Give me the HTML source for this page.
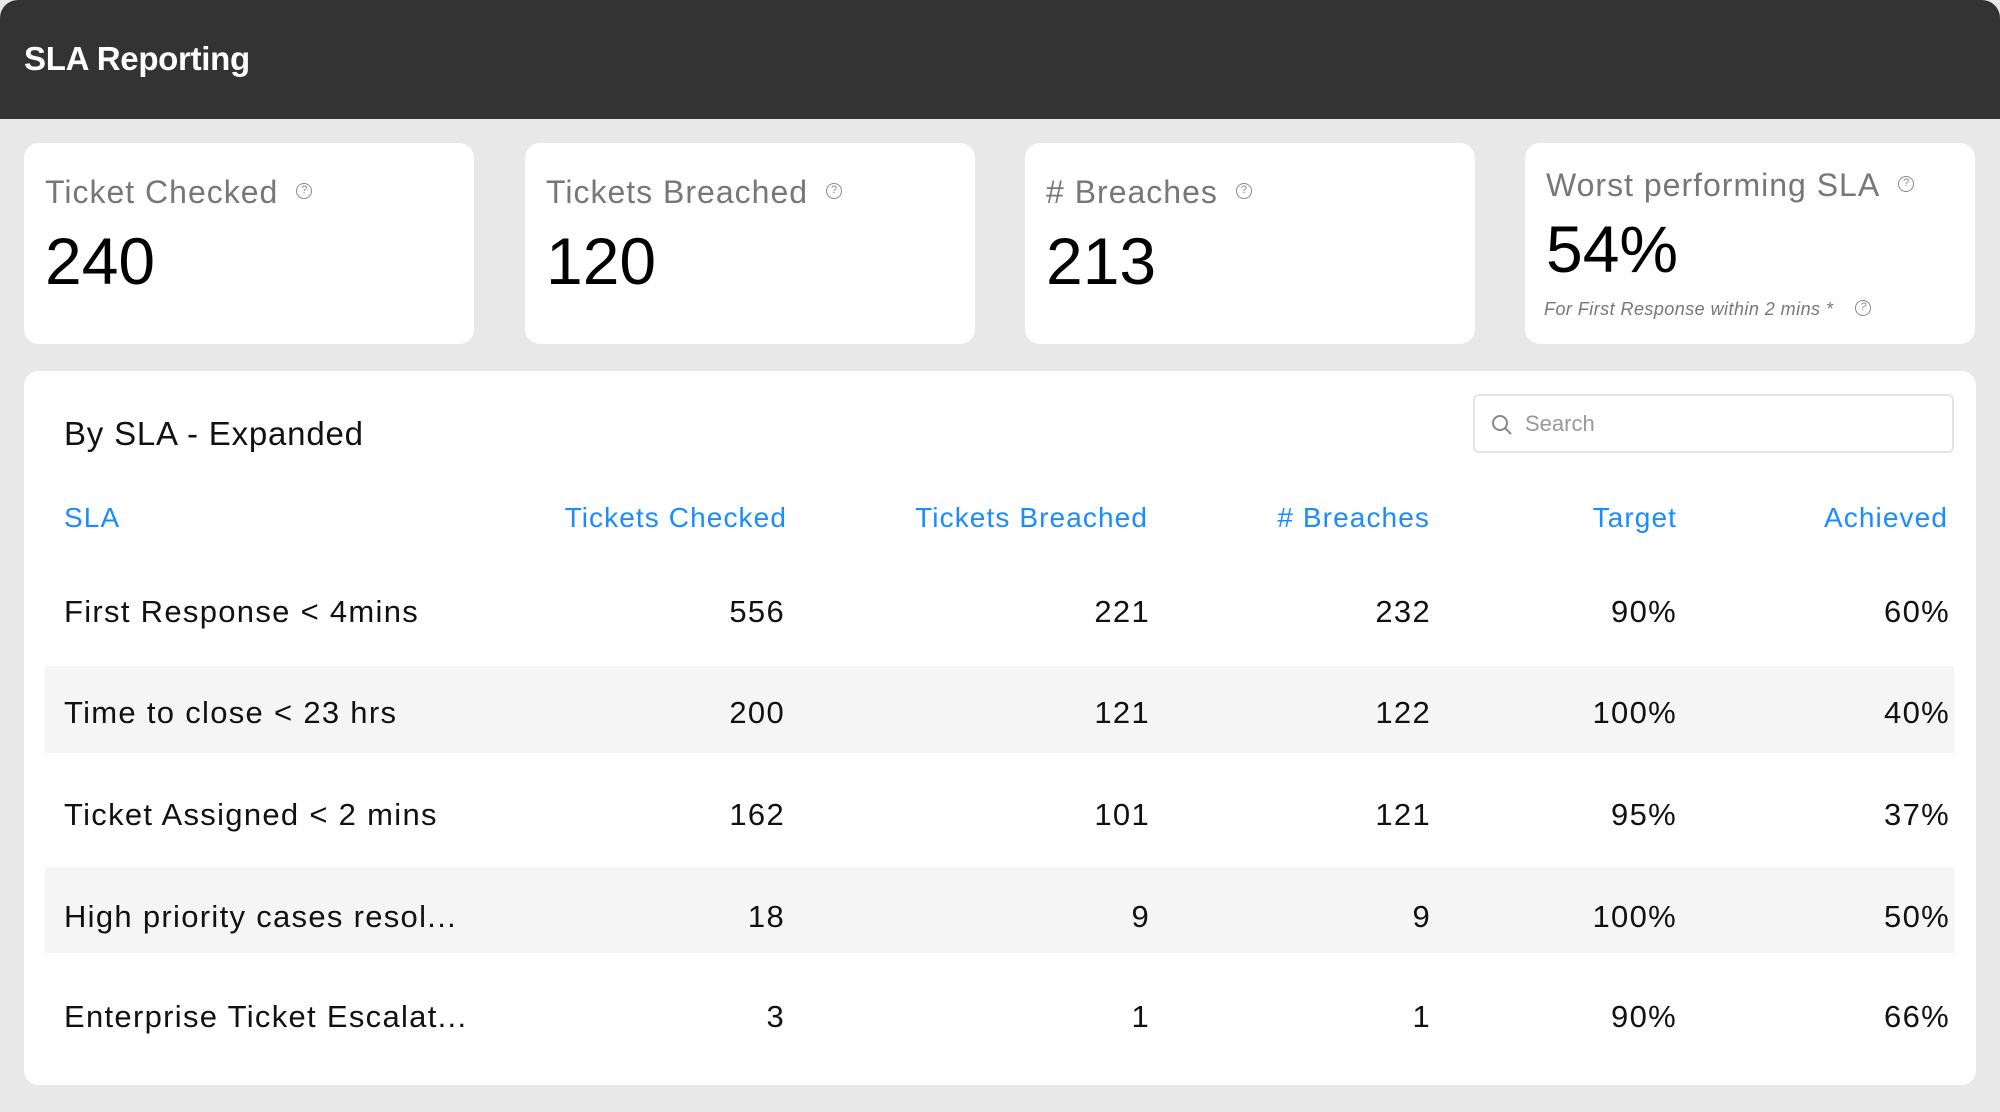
<!DOCTYPE html>
<html><head><meta charset="utf-8"><style>
*{margin:0;padding:0;box-sizing:border-box}
body{width:2000px;height:1112px;background:#e8e8e8;font-family:"Liberation Sans",sans-serif;position:relative;overflow:hidden}
.hdr{position:absolute;left:0;top:0;width:2000px;height:119px;background:#333;border-radius:18px 18px 0 0}
.hdr span{position:absolute;left:24px;top:40px;font-size:33px;color:#fff;font-weight:bold;letter-spacing:-0.3px}
.card{position:absolute;top:143px;height:201px;width:450px;background:#fff;border-radius:15px}
.lbl{position:absolute;left:21px;top:31px;font-size:32px;color:#777;white-space:nowrap;letter-spacing:1px}
.q{display:inline-block;width:16px;height:16px;border:1.5px solid #888;border-radius:50%;font-size:11px;line-height:13px;text-align:center;color:#888;vertical-align:middle;margin-left:18px;position:relative;top:-4px;letter-spacing:0}
.val{position:absolute;left:21px;top:80px;font-size:66px;color:#000}
.sub{position:absolute;left:19px;top:156px;font-size:18px;color:#777;font-style:italic;white-space:nowrap;letter-spacing:0.45px}
.panel{position:absolute;left:24px;top:371px;width:1952px;height:714px;background:#fff;border-radius:15px}
.title{position:absolute;left:64px;top:415px;font-size:33px;color:#111;letter-spacing:0.8px}
.search{position:absolute;left:1473px;top:394px;width:481px;height:59px;border:2px solid #e4e4e4;border-radius:6px}
.search span{position:absolute;left:50px;top:15px;font-size:22px;color:#999}
.th,.td{position:absolute;white-space:nowrap}
.th{color:#1a8cff;font-size:28px;top:502px;letter-spacing:1.1px}
.td{color:#111;font-size:31px;letter-spacing:1.3px}
.r{transform:translateX(-100%)}
.stripe{position:absolute;left:45px;width:1909px;background:#f5f5f5}
</style></head><body>
<div class="hdr"><span>SLA Reporting</span></div>
<div class="card" style="left:24px"><div class="lbl">Ticket Checked<span class="q">?</span></div><div class="val">240</div></div>
<div class="card" style="left:525px"><div class="lbl">Tickets Breached<span class="q">?</span></div><div class="val">120</div></div>
<div class="card" style="left:1025px"><div class="lbl"># Breaches<span class="q">?</span></div><div class="val">213</div></div>
<div class="card" style="left:1525px"><div class="lbl" style="top:24px">Worst performing SLA<span class="q">?</span></div><div class="val" style="top:68px">54%</div><div class="sub">For First Response within 2 mins *<span class="q" style="margin-left:22px;top:-2px">?</span></div></div>
<div class="panel"></div>
<div class="stripe" style="top:666px;height:87px"></div>
<div class="stripe" style="top:867px;height:86px"></div>
<div class="title">By SLA - Expanded</div>
<div class="search"><svg style="position:absolute;left:15px;top:17px" width="24" height="24" viewBox="0 0 24 24"><circle cx="10" cy="10" r="7" fill="none" stroke="#888" stroke-width="2"/><line x1="15" y1="15" x2="21" y2="21" stroke="#888" stroke-width="2"/></svg><span>Search</span></div>
<div class="th" style="left:64px">SLA</div>
<div class="th r" style="left:787px">Tickets Checked</div>
<div class="th r" style="left:1148px">Tickets Breached</div>
<div class="th r" style="left:1430px"># Breaches</div>
<div class="th r" style="left:1677px">Target</div>
<div class="th r" style="left:1948px">Achieved</div>

<div class="td" style="left:64px;top:594px">First Response &lt; 4mins</div>
<div class="td r" style="left:785px;top:594px">556</div>
<div class="td r" style="left:1150px;top:594px">221</div>
<div class="td r" style="left:1431px;top:594px">232</div>
<div class="td r" style="left:1677px;top:594px">90%</div>
<div class="td r" style="left:1950px;top:594px">60%</div>

<div class="td" style="left:64px;top:695px">Time to close &lt; 23 hrs</div>
<div class="td r" style="left:785px;top:695px">200</div>
<div class="td r" style="left:1150px;top:695px">121</div>
<div class="td r" style="left:1431px;top:695px">122</div>
<div class="td r" style="left:1677px;top:695px">100%</div>
<div class="td r" style="left:1950px;top:695px">40%</div>

<div class="td" style="left:64px;top:797px">Ticket Assigned &lt; 2 mins</div>
<div class="td r" style="left:785px;top:797px">162</div>
<div class="td r" style="left:1150px;top:797px">101</div>
<div class="td r" style="left:1431px;top:797px">121</div>
<div class="td r" style="left:1677px;top:797px">95%</div>
<div class="td r" style="left:1950px;top:797px">37%</div>

<div class="td" style="left:64px;top:899px">High priority cases resol...</div>
<div class="td r" style="left:785px;top:899px">18</div>
<div class="td r" style="left:1150px;top:899px">9</div>
<div class="td r" style="left:1431px;top:899px">9</div>
<div class="td r" style="left:1677px;top:899px">100%</div>
<div class="td r" style="left:1950px;top:899px">50%</div>

<div class="td" style="left:64px;top:999px">Enterprise Ticket Escalat...</div>
<div class="td r" style="left:785px;top:999px">3</div>
<div class="td r" style="left:1150px;top:999px">1</div>
<div class="td r" style="left:1431px;top:999px">1</div>
<div class="td r" style="left:1677px;top:999px">90%</div>
<div class="td r" style="left:1950px;top:999px">66%</div>
</body></html>
